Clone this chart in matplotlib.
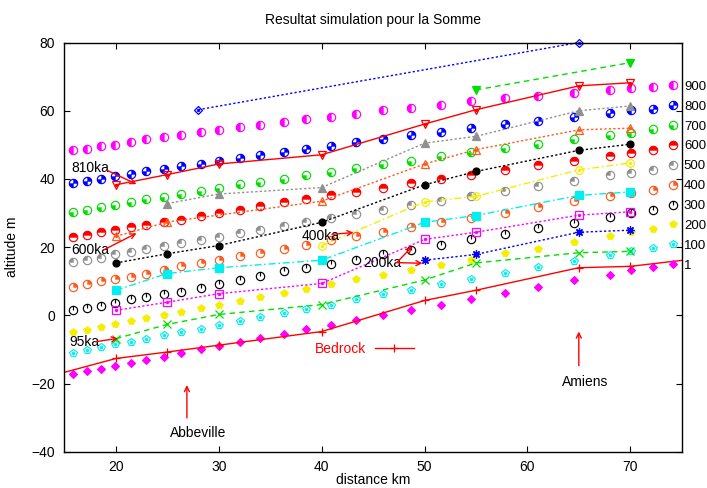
import matplotlib
matplotlib.use('Agg')
import matplotlib.pyplot as plt
from matplotlib.path import Path

plt.rcParams['font.family'] = ['Liberation Sans', 'DejaVu Sans']

# ---------------- data ----------------
x_sim = [15.85, 17.15, 18.55, 19.95, 21.45, 22.95, 24.65, 26.35, 28.25, 30.05, 32.05, 34.05, 36.3,
         38.5, 40.9, 43.35, 45.95, 48.7, 51.6, 54.55, 57.8, 61.0, 64.5, 68.05, 70.1, 72.2]

sim_900 = [48.4, 48.9, 49.6, 50.1, 50.9, 51.6, 52.4, 52.9, 53.7, 54.5, 55.2, 55.9, 56.8,
           57.5, 58.3, 59.1, 60.1, 60.9, 61.8, 62.8, 63.7, 64.4, 65.3, 66.1, 66.6, 67.1]
sim_800 = [38.8, 39.5, 40.1, 40.8, 41.5, 42.2, 43.0, 43.7, 44.5, 45.4, 46.2, 47.0, 48.0,
           48.9, 49.8, 50.8, 51.8, 52.9, 53.9, 54.9, 56.1, 57.1, 58.3, 59.4, 60.1, 60.6]
sim_700 = [30.4, 30.9, 31.8, 32.4, 33.2, 34.0, 34.8, 35.6, 36.5, 37.4, 38.4, 39.1, 40.1,
           41.1, 42.0, 43.2, 44.4, 45.4, 46.6, 47.8, 49.1, 50.3, 51.7, 52.9, 53.6, 54.6]
sim_600 = [23.0, 23.7, 24.4, 25.1, 25.8, 26.6, 27.4, 28.1, 29.1, 30.1, 31.0, 32.0, 33.2,
           34.0, 35.2, 36.3, 37.5, 38.7, 40.0, 41.3, 42.7, 44.0, 45.4, 46.8, 47.6, 48.6]
sim_500 = [15.7, 16.3, 16.9, 17.9, 18.7, 19.6, 20.3, 21.2, 22.2, 23.0, 24.2, 25.1, 26.3,
           27.3, 28.6, 29.6, 31.0, 32.3, 33.5, 35.1, 36.4, 38.0, 39.5, 41.1, 41.8, 42.7]
sim_400 = [8.4, 9.1, 10.0, 10.8, 11.4, 12.3, 13.2, 14.4, 15.4, 16.2, 17.4, 18.4, 19.5,
           20.6, 22.0, 23.2, 24.5, 26.0, 27.3, 28.6, 30.1, 31.7, 33.5, 34.9, 35.9, 36.9]
sim_300 = [1.5, 2.1, 2.8, 3.7, 4.7, 5.5, 6.2, 7.0, 8.1, 9.1, 10.4, 11.5, 13.0,
           14.0, 15.2, 16.4, 18.1, 19.3, 20.8, 22.3, 23.9, 25.5, 27.1, 28.9, 29.9, 30.8]
sim_200 = [-4.9, -4.2, -3.4, -2.6, -1.6, -0.8, 0.1, 1.1, 2.3, 3.2, 4.2, 5.5, 6.7,
           7.8, 9.3, 10.6, 11.9, 13.3, 14.9, 16.4, 18.2, 19.6, 21.5, 23.2, 24.4, 25.4]
sim_100 = [-10.9, -10.1, -9.3, -8.5, -7.7, -6.8, -5.8, -4.9, -3.9, -2.9, -1.6, -0.5, 0.8,
           2.0, 3.2, 4.7, 6.2, 7.6, 9.3, 10.8, 12.5, 14.2, 15.9, 17.7, 18.8, 19.8]
sim_1 = [-17.0, -16.4, -15.7, -14.8, -13.8, -13.0, -12.1, -11.1, -9.9, -8.9, -7.8, -6.5, -5.3,
         -4.1, -2.7, -1.3, 0.1, 1.6, 3.2, 4.9, 6.7, 8.3, 10.3, 12.0, 13.2, 14.3]
sim_labels = ['900', '800', '700', '600', '500', '400', '300', '200', '100', '1']

# observed terraces
x_terr = [20, 25, 30, 40, 50, 55, 65, 70]
top_x, top_y = [28, 65], [60.3, 80.0]
grn_x, grn_y = [55, 70], [66.1, 74.1]
t810_y = [38.3, 41.3, 44.4, 47.1, 56.1, 60.3, 67.3, 68.2]
gray_x = [25, 30, 40, 50, 55, 65, 70]
gray_y = [32.8, 35.6, 37.5, 50.5, 52.5, 60.0, 61.4]
t600_x = [20, 25, 40, 50, 55, 65, 70]
t600_y = [23.2, 27.4, 33.5, 44.4, 48.6, 54.4, 54.9]
blk_y = [15.4, 18.1, 20.5, 27.3, 38.3, 42.2, 48.4, 50.2]
yel_x = [40, 50, 55, 65, 70]
yel_y = [20.5, 33.3, 34.9, 42.7, 44.7]
cyn_y = [7.4, 12.3, 14.0, 16.2, 27.3, 29.3, 35.2, 36.2]
vio_y = [1.5, 3.9, 6.4, 9.4, 22.3, 24.4, 29.4, 30.4]
t200_x = [50, 55, 65, 70]
t200_y = [16.2, 17.9, 24.4, 25.0]
t95_y = [-6.8, -2.6, 0.3, 3.2, 10.4, 15.4, 18.4, 18.8]
bed_x = [10, 20, 25, 30, 40, 50, 55, 65, 70, 80]
bed_y = [-20.7, -12.6, -10.7, -8.7, -4.7, 4.4, 7.4, 14.0, 14.4, 17.9]

# labels / arrows (text, text pos, list of arrows (start, end))
age_labels = ['810ka', '600ka', '400ka', '200ka', '95ka']
age_text_pos = [(15.7, 43.3), (15.7, 19.2), (38.1, 23.3), (44.0, 15.5), (15.5, -7.8)]
age_arrows = [[((19.1, 42.6), (22.0, 38.5))],
              [((18.8, 19.2), (22.0, 24.1))],
              [((41.0, 23.8), (43.1, 24.3))],
              [((47.3, 15.5), (49.8, 15.3)), ((47.3, 15.5), (48.8, 20.2))],
              [((18.0, -7.7), (20.2, -6.7))]]
towns = ['Abbeville', 'Amiens']
town_text_pos = [(28.0, -34.4), (65.6, -19.5)]
town_arrows = [((26.9, -30.0), (26.9, -20.4)), ((65.0, -14.7), (65.0, -4.7))]

# ---------------- figure ----------------
fig = plt.figure(figsize=(7.07, 4.88), dpi=100)
ax = fig.add_axes([0.0912, 0.0738, 0.8730, 0.8391])

RED = '#ff0000'
GREEN = '#00e000'
BLUE = '#0000ff'
MAG = '#ff00ff'
CYAN = '#00f0f0'
YEL = '#f5ee00'
ORG = '#ff5a1e'
GRAY = '#909090'
BLK = '#000000'

MS = 6.0
MEW = 0.85


def wedges(*pairs):
    return Path.make_compound_path(*[Path.wedge(a, b) for a, b in pairs])


tick_path = Path([(0, 0), (0, 1)], [Path.MOVETO, Path.LINETO])

sim_series = [
    (sim_900, MAG, wedges((90, 270))),
    (sim_800, BLUE, wedges((0, 90), (180, 270))),
    (sim_700, GREEN, wedges((180, 270))),
    (sim_600, RED, wedges((0, 180))),
    (sim_500, GRAY, wedges((90, 180))),
    (sim_400, ORG, wedges((0, 90))),
]

handles = []
for ys, col, wp in sim_series:
    h1, = ax.plot(x_sim, ys, ls='none', marker='o', ms=MS, mfc='white', mec=col, mew=MEW)
    h2, = ax.plot(x_sim, ys, ls='none', marker=wp, ms=MS, mfc=col, mec=col, mew=0.3)
    handles.append((h1, h2))

h1, = ax.plot(x_sim, sim_300, ls='none', marker='o', ms=MS, mfc='white', mec=BLK, mew=MEW)
h2, = ax.plot(x_sim, sim_300, ls='none', marker=tick_path, ms=MS, mfc='none', mec=BLK, mew=MEW)
handles.append((h1, h2))
h1, = ax.plot(x_sim, sim_200, ls='none', marker='p', ms=MS, mfc=YEL, mec=YEL, mew=0.5)
handles.append(h1)
h1, = ax.plot(x_sim, sim_100, ls='none', marker='p', ms=MS, mfc='none', mec=CYAN, mew=MEW)
h2, = ax.plot(x_sim, sim_100, ls='none', marker='o', ms=1.5, mfc=CYAN, mec=CYAN)
handles.append((h1, h2))
h1, = ax.plot(x_sim, sim_1, ls='none', marker='D', ms=4.0, mfc=MAG, mec=MAG, mew=0.8)
handles.append(h1)

DOT = (0, (1.6, 1.6))
DASH = (0, (4, 3))
DASHDOT = (0, (5, 2, 1.2, 2))


def terrace(x, y, col, ls, marker, filled, ms=5.5, lw=1.0, **kw):
    h, = ax.plot(x, y, color=col, ls=ls, lw=lw, marker=marker, ms=ms,
                 mfc=col if filled else 'none', mec=col, mew=0.9, **kw)
    if not filled:
        ax.plot(x, y, ls='none', marker='o', ms=1.4, color=col, **kw)
    return h


terrace(top_x, top_y, BLUE, DOT, 'D', False, ms=4.5, clip_on=False)
terrace(grn_x, grn_y, GREEN, DASH, 'v', True)
terrace(x_terr, t810_y, RED, '-', 'v', False)
terrace(gray_x, gray_y, GRAY, DOT, '^', True)
terrace(t600_x, t600_y, ORG, DOT, '^', False)
terrace(x_terr, blk_y, BLK, DOT, 'o', True, ms=5)
terrace(yel_x, yel_y, YEL, DASHDOT, 'o', False)
terrace(x_terr, cyn_y, CYAN, DASHDOT, 's', True)
terrace(x_terr, vio_y, MAG, DOT, 's', False)
terrace(t200_x, t200_y, BLUE, DOT, (8, 2, 0), True, ms=6)
terrace(x_terr, t95_y, GREEN, DASH, 'x', True)
bed, = ax.plot(bed_x, bed_y, color=RED, lw=1.0, marker='+', ms=6, mew=0.9)

# annotations
arrow_kw = dict(arrowstyle='->', color=RED, lw=1.0, shrinkA=0, shrinkB=0, mutation_scale=9)
for lab, pos, arrs in zip(age_labels, age_text_pos, age_arrows):
    ax.text(pos[0], pos[1], lab, ha='left', va='center', fontsize=10)
    for s, e in arrs:
        ax.annotate('', xy=e, xytext=s, arrowprops=arrow_kw)
for lab, pos, (s, e) in zip(towns, town_text_pos, town_arrows):
    ax.text(pos[0], pos[1], lab, ha='center', va='center', fontsize=10)
    ax.annotate('', xy=e, xytext=s, arrowprops=arrow_kw)

# axes
ax.set_xlim(15, 75)
ax.set_ylim(-40, 80)
ax.set_xticks([20, 30, 40, 50, 60, 70])
ax.set_yticks([-40, -20, 0, 20, 40, 60, 80])
ax.tick_params(direction='in', length=4.5, width=0.8, top=True, right=True, labelsize=10)
ax.tick_params(axis='x', pad=6)
ax.tick_params(axis='y', pad=7)
for sp in ax.spines.values():
    sp.set_linewidth(1.0)
ax.set_title('Resultat simulation pour la Somme', fontsize=10, pad=13)
ax.set_xlabel('distance km', fontsize=10, labelpad=-1)
ax.set_ylabel('altitude m', fontsize=10, labelpad=9)

# keys
leg1 = ax.legend(handles, sim_labels, loc='upper left', bbox_to_anchor=(0.9775, 0.907),
                 frameon=False, fontsize=9.5, handlelength=0.8, handletextpad=0.42,
                 labelspacing=0.58, borderpad=0, borderaxespad=0, numpoints=1)
ax.add_artist(leg1)
leg2 = ax.legend([bed], ['Bedrock'], loc='center left', bbox_to_anchor=(0.406, 0.251),
                 frameon=False, fontsize=10, markerfirst=False, handlelength=2.75,
                 handletextpad=0.65, borderpad=0, borderaxespad=0, labelcolor=RED)

fig.savefig('out.png', dpi=100)
